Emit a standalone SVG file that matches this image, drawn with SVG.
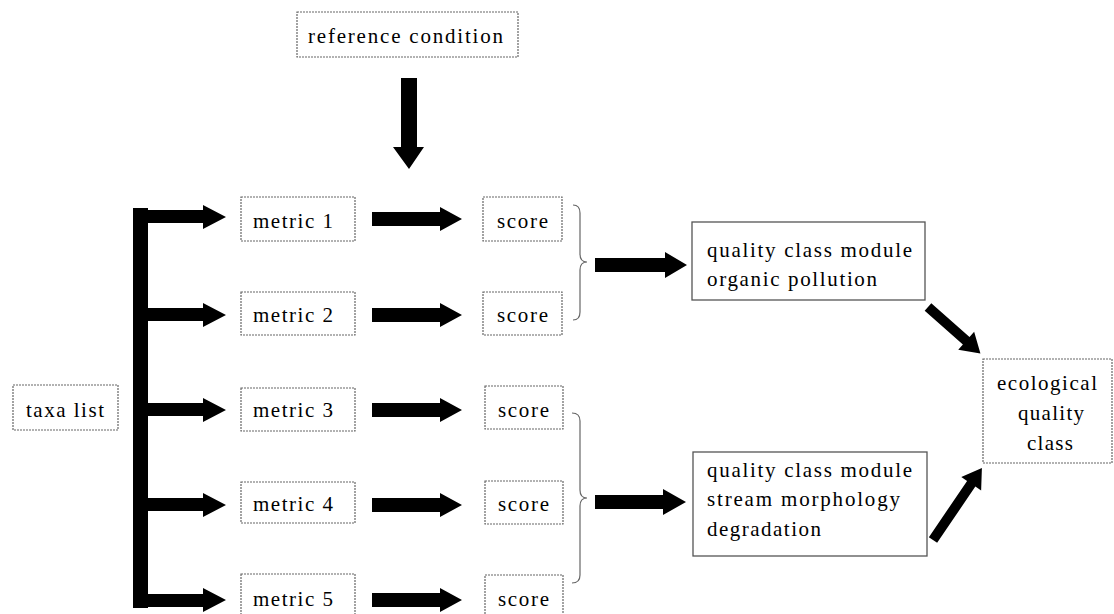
<svg xmlns="http://www.w3.org/2000/svg" width="1114" height="614" viewBox="0 0 1114 614" font-family="Liberation Serif, DejaVu Serif, serif" font-size="21">
<style>
.box{fill:#fff;stroke:#666;stroke-width:1.2;stroke-dasharray:2 1}
.sbox{fill:#fff;stroke:#555;stroke-width:1.3}
.arr{fill:#000}
.brace{fill:none;stroke:#666;stroke-width:1.2}
</style>
<rect width="1114" height="614" fill="#fff"/>
<g id="reference">
<rect class="box" x="297" y="12" width="221" height="45"/>
<text x="308" y="43" textLength="195" lengthAdjust="spacing">reference condition</text>
</g>
<g id="taxa">
<rect class="box" x="13" y="385" width="105" height="45"/>
<text x="26" y="417" textLength="78" lengthAdjust="spacing">taxa list</text>
</g>
<g id="metric1"><rect class="box" x="241" y="197" width="114" height="44"/><text x="253" y="228" textLength="80" lengthAdjust="spacing">metric 1</text></g>
<g id="metric2"><rect class="box" x="241" y="292" width="114" height="43"/><text x="253" y="322" textLength="80" lengthAdjust="spacing">metric 2</text></g>
<g id="metric3"><rect class="box" x="241" y="388" width="114" height="43"/><text x="253" y="417" textLength="80" lengthAdjust="spacing">metric 3</text></g>
<g id="metric4"><rect class="box" x="241" y="482" width="114" height="41"/><text x="253" y="511" textLength="80" lengthAdjust="spacing">metric 4</text></g>
<g id="metric5"><rect class="box" x="241" y="574" width="114" height="43"/><text x="253" y="606" textLength="80" lengthAdjust="spacing">metric 5</text></g>
<g id="score1"><rect class="box" x="483" y="197" width="79" height="44"/><text x="497" y="228" textLength="51" lengthAdjust="spacing">score</text></g>
<g id="score2"><rect class="box" x="483" y="292" width="79" height="43"/><text x="497" y="322" textLength="51" lengthAdjust="spacing">score</text></g>
<g id="score3"><rect class="box" x="485" y="386" width="78" height="43"/><text x="498" y="417" textLength="51" lengthAdjust="spacing">score</text></g>
<g id="score4"><rect class="box" x="485" y="481" width="78" height="43"/><text x="498" y="511" textLength="51" lengthAdjust="spacing">score</text></g>
<g id="score5"><rect class="box" x="485" y="575" width="78" height="42"/><text x="498" y="606" textLength="51" lengthAdjust="spacing">score</text></g>
<g id="module1">
<rect class="sbox" x="692" y="222" width="233" height="78"/>
<text x="707" y="257" textLength="205" lengthAdjust="spacing">quality class module</text>
<text x="707" y="286" textLength="170" lengthAdjust="spacing">organic pollution</text>
</g>
<g id="module2">
<rect class="sbox" x="693" y="452" width="234" height="104"/>
<text x="707" y="477" textLength="205" lengthAdjust="spacing">quality class module</text>
<text x="707" y="506" textLength="193" lengthAdjust="spacing">stream morphology</text>
<text x="707" y="536" textLength="114" lengthAdjust="spacing">degradation</text>
</g>
<g id="ecological">
<rect class="box" x="983" y="359" width="129" height="104"/>
<text x="997" y="390" textLength="100" lengthAdjust="spacing">ecological</text>
<text x="1018" y="420" textLength="66" lengthAdjust="spacing">quality</text>
<text x="1027" y="450" textLength="46" lengthAdjust="spacing">class</text>
</g>
<g id="connectors">
<polygon class="arr" points="401,78 417,78 417,147 424,147 409,169 393,147 401,147"/>
<rect class="arr" x="133" y="208" width="15" height="400"/>
<polygon class="arr" points="133,210 203,210 203,205 226,217 203,229 203,223 133,223"/>
<polygon class="arr" points="133,308 203,308 203,303 226,315 203,327 203,321 133,321"/>
<polygon class="arr" points="133,403 203,403 203,398 226,410 203,422 203,416 133,416"/>
<polygon class="arr" points="133,498 203,498 203,493 226,505 203,517 203,511 133,511"/>
<polygon class="arr" points="133,594 203,594 203,588 226,600 203,612 203,607 133,607"/>
<polygon class="arr" points="372,212 440,212 440,207 462,219 440,231 440,226 372,226"/>
<polygon class="arr" points="372,308 440,308 440,303 462,315 440,327 440,322 372,322"/>
<polygon class="arr" points="372,403 440,403 440,398 462,410 440,422 440,417 372,417"/>
<polygon class="arr" points="372,498 440,498 440,493 462,505 440,517 440,512 372,512"/>
<polygon class="arr" points="372,593 440,593 440,588 462,600 440,612 440,607 372,607"/>
<path class="brace" d="M573,205 Q580,205 580,213 L580,254 Q580,262 587,262 Q580,262 580,270 L580,312 Q580,320 573,320"/>
<path class="brace" d="M572,413 Q580,413 580,421 L580,490 Q580,498 587,498 Q580,498 580,506 L580,575 Q580,583 572,583"/>
<polygon class="arr" points="595,258 665,258 665,252 687,265 665,278 665,272 595,272"/>
<polygon class="arr" points="595,495 663,495 663,489 686,502 663,515 663,509 595,509"/>
<g transform="translate(928,307) rotate(41.5)"><polygon class="arr" points="0,-5 51,-5 51,-12 70,0 51,12 51,5 0,5"/></g>
<g transform="translate(933,540) rotate(-55.8)"><polygon class="arr" points="0,-5 68,-5 68,-12 87,0 68,12 68,5 0,5"/></g>
</g>
</svg>
